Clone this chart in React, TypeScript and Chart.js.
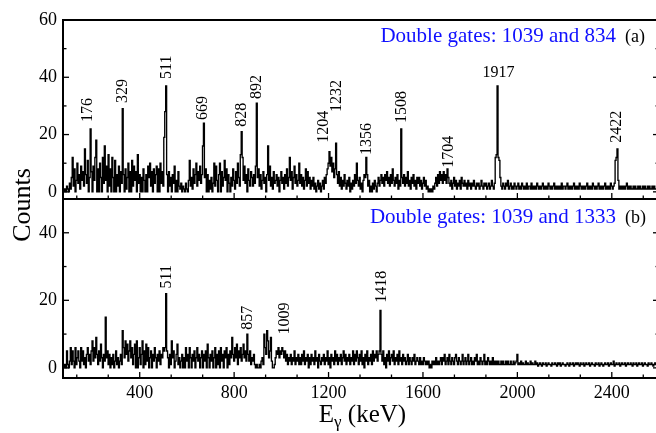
import React, { useEffect, useRef } from 'react';
import { Chart, registerables } from 'chart.js';

Chart.register(...registerables);

const SERIF = '"Liberation Serif", "Times New Roman", serif';

const E_MIN = 75;
const E_MAX = 2600;
const BIN_START = 80;
const BIN_WIDTH = 4;

// Panel (a): double gates 1039 and 834 — counts per 4 keV bin (100 bins per 400 keV block)
const A_0080 = [
  0,1,0,2,1,0,3,1,5,12,2,8,0,4,10,3,6,1,9,4,7,2,15,6,3,
  11,0,5,22,7,0,9,4,12,18,0,8,0,10,5,0,12,3,16,4,9,0,13,2,8,
  0,12,5,0,11,0,6,2,9,0,7,3,29,6,0,8,1,5,10,0,7,0,11,2,9,
  4,7,0,13,3,6,0,5,0,8,4,0,6,0,9,5,10,2,7,0,8,3,6,9,0,
];
const A_0480 = [
  8,0,10,3,7,2,19,28,37,6,0,7,2,5,0,6,3,9,0,4,0,7,2,1,3,
  0,2,1,0,3,1,0,4,11,2,5,1,8,3,6,10,2,7,4,9,3,6,16,24,5,
  8,0,6,0,4,1,5,0,3,10,2,9,4,0,6,10,0,7,2,5,11,4,8,0,6,
  3,0,5,2,8,4,1,7,3,10,5,2,13,21,12,4,9,3,6,0,8,4,2,7,5,
];
const A_0880 = [
  2,6,3,9,31,5,8,2,6,1,4,7,3,5,0,6,16,4,9,2,5,1,7,3,4,
  6,2,5,0,4,7,3,5,1,6,3,8,2,5,12,4,7,1,5,9,3,6,2,4,10,
  3,6,2,5,1,4,8,2,7,3,5,1,4,2,5,1,3,0,2,4,1,3,0,2,4,
  1,5,3,6,8,10,14,9,12,7,10,5,8,17,6,3,7,2,5,1,4,2,6,3,1,
];
const A_1280 = [
  4,2,5,0,3,1,4,2,6,3,10,4,2,5,1,3,0,4,6,5,12,6,2,4,0,
  2,0,3,1,4,2,0,3,5,2,4,6,3,5,2,6,4,7,3,5,2,6,3,8,4,
  2,5,3,6,1,4,2,22,5,3,6,2,5,3,7,2,4,1,5,3,6,2,4,1,5,
  3,5,2,4,1,3,5,2,4,1,2,0,1,0,1,0,2,1,3,5,2,6,3,7,4,
];
const A_1680 = [
  6,3,7,4,6,3,8,5,3,2,4,1,3,5,2,4,1,3,2,4,1,5,3,2,4,
  2,3,1,4,2,3,1,3,2,4,2,1,3,2,3,1,2,4,2,1,3,2,3,1,2,
  3,1,2,4,2,1,3,12,13,37,12,11,5,2,1,3,2,1,3,2,4,1,2,3,1,
  2,1,3,2,1,2,3,1,2,1,3,2,1,2,1,3,1,2,2,1,3,1,2,1,2,
];
const A_2080 = [
  1,3,2,1,2,1,2,3,1,2,1,2,1,3,2,1,2,1,2,3,1,2,1,2,1,
  2,1,3,1,2,2,1,2,3,1,2,1,2,1,2,3,1,2,1,2,1,3,2,1,2,
  1,2,1,2,3,1,2,1,2,1,3,2,1,2,1,2,3,1,2,1,2,1,2,3,1,
  2,1,2,1,3,2,1,2,3,11,12,15,4,1,2,1,2,1,2,1,2,3,1,2,1,
];
const A_2480 = [
  2,1,1,2,1,2,1,1,2,1,2,1,1,2,1,2,1,1,2,1,2,1,1,2,1,
  2,1,1,2,1,2,
];

// Panel (b): double gates 1039 and 1333
const B_0080 = [
  0,1,0,5,1,0,2,6,1,5,2,0,6,1,3,5,2,0,6,2,5,1,3,0,4,
  6,2,4,1,5,8,2,6,3,9,4,1,5,2,7,3,0,4,2,15,3,5,1,4,0,
  3,1,4,0,2,5,1,3,0,2,4,1,11,6,3,8,4,7,2,5,8,3,6,1,4,
  7,0,8,0,3,6,1,4,8,0,5,1,7,2,6,0,3,5,0,4,2,6,3,0,4,
];
const B_0480 = [
  2,5,1,4,3,6,5,6,22,5,3,0,4,1,8,3,5,0,2,4,7,1,3,0,2,
  4,0,3,0,6,2,4,0,6,3,0,4,2,5,0,3,6,2,4,0,3,5,0,4,2,
  5,0,7,3,0,4,2,5,0,3,6,0,4,1,5,0,6,2,4,0,5,3,6,0,4,
  1,5,3,9,4,2,6,3,7,1,5,3,6,2,4,7,3,5,2,10,4,2,5,1,3,
];
const B_0880 = [
  2,4,1,0,1,0,0,1,0,2,3,1,10,6,4,11,8,3,5,9,2,0,0,1,3,
  5,4,6,3,5,4,6,5,3,5,2,4,1,3,2,4,1,3,2,5,1,3,2,4,1,
  3,1,4,2,5,1,3,2,4,0,3,1,4,2,3,1,5,2,3,0,4,2,1,3,2,
  4,1,3,2,5,1,3,0,4,2,3,1,5,2,4,1,3,2,4,1,3,5,2,4,1,
];
const B_1280 = [
  3,2,4,1,3,2,5,1,4,2,5,3,1,4,2,5,1,3,0,4,2,5,1,3,2,
  4,1,5,2,4,3,5,2,4,5,17,4,2,5,1,3,0,4,2,5,1,3,4,2,5,
  1,3,2,4,1,5,2,3,1,4,2,3,1,2,4,1,3,2,1,3,2,4,1,2,3,
  2,1,3,1,2,1,3,2,1,2,1,2,0,1,0,2,1,2,1,3,1,2,1,2,3,
];
const B_1680 = [
  1,3,2,4,1,2,3,1,4,2,1,3,2,1,3,4,2,1,3,2,1,2,4,1,2,
  3,1,2,4,1,2,3,1,2,1,3,2,4,1,2,1,3,2,1,2,4,1,2,1,3,
  2,1,2,1,3,1,2,1,2,1,2,1,1,2,1,2,1,1,2,1,2,1,1,2,1,
  1,2,1,1.5,2,4,1,1.5,1,2,1,1.5,1,1,2,1,1.5,1,1,2,1,1.5,1,1,2,
];
const B_2080 = [
  1,1.5,0.5,1,1.5,1,0.5,1.5,1,1,1.5,0.5,1,1.5,1,1,0.5,1.5,1,1,1.5,1,0.5,1.5,1,
  1.5,0.5,1,1.5,1,1,0.5,1,1.5,1,0.5,1.5,1,1,1.5,0.5,1,1.5,1,1.5,1,0.5,1.5,1,1,
  1.5,0.5,1,1.5,1,1,1.5,0.5,1,1.5,1,1,0.5,1.5,1,1,1.5,0.5,1,1.5,1,0.5,1,1.5,1,
  1,1.5,0.5,1,1.5,1,1,2,0.5,1,1.5,1,1,1.5,0.5,1,1.5,1,1,1.5,0.5,1,1.5,1,1,
];
const B_2480 = [
  1.5,1,0.5,1.5,1,1,1.5,0.5,1,1.5,1,1,1.5,0.5,1,1.5,1,1,0.5,1.5,1,1,1.5,1,0.5,
  1,1.5,1,0.5,1.5,1,
];

const SPEC_A = [...A_0080, ...A_0480, ...A_0880, ...A_1280, ...A_1680, ...A_2080, ...A_2480];
const SPEC_B = [...B_0080, ...B_0480, ...B_0880, ...B_1280, ...B_1680, ...B_2080, ...B_2480];

// Axes
const X_TICKS = [400, 800, 1200, 1600, 2000, 2400];
const X_MINOR_PER_MAJOR = 2;
const Y_RANGE_A = [-2.5, 60];
const Y_RANGE_B = [-3, 50];
const Y_TICKS_A = [0, 20, 40, 60];
const Y_MINOR_A = [10, 30, 50];
const Y_TICKS_B = [0, 20, 40];
const Y_MINOR_B = [10, 30];

// Peak annotations (text, energy position, label start in counts)
const PEAK_A_TEXT = ['176', '329', '511', '669', '828', '892', '1204', '1232', '1356', '1508', '1704', '2422'];
const PEAK_A_E = [182, 329, 513, 669, 832, 895, 1181, 1234, 1362, 1510, 1708, 2422];
const PEAK_A_Y = [24.4, 31, 39.4, 25.1, 22.7, 32.4, 17.1, 27.9, 12.9, 24, 8.4, 17.1];
const FLAT_LABEL_A = { text: '1917', e: 1920, y: 40.1 };
const PEAK_B_TEXT = ['511', '857', '1009', '1418'];
const PEAK_B_E = [513, 857, 1014, 1425];
const PEAK_B_Y = [23.5, 11.3, 9.9, 19.3];

const GATE_A = 'Double gates: 1039 and 834';
const GATE_B = 'Double gates: 1039 and 1333';
const TAG_A = '(a)';
const TAG_B = '(b)';
const GATE_RIGHT_E = 2418;
const TAG_LEFT_E = 2456;
const GATE_Y_A = 52.3;
const GATE_Y_B = 42.8;

const toPoints = (arr: number[]) => arr.map((v, i) => ({ x: BIN_START + i * BIN_WIDTH, y: v }));

const xMinor = (): number[] => {
  const out: number[] = [];
  const step = X_TICKS[1] - X_TICKS[0];
  for (let m = X_TICKS[0] - step; m <= E_MAX; m += step) {
    for (let k = 1; k <= X_MINOR_PER_MAJOR; k++) {
      const v = m + (k * step) / (X_MINOR_PER_MAJOR + 1);
      if (v > E_MIN && v < E_MAX) out.push(v);
    }
  }
  return out;
};

const decor = {
  id: 'decor',
  afterDraw(chart: any) {
    const ctx: CanvasRenderingContext2D = chart.ctx;
    const xs = chart.scales.x;
    const yt = chart.scales.yTop;
    const yb = chart.scales.yBot;
    const L = xs.left;
    const R = xs.right;
    const line = (x1: number, y1: number, x2: number, y2: number) => {
      ctx.beginPath();
      ctx.moveTo(x1, y1);
      ctx.lineTo(x2, y2);
      ctx.stroke();
    };
    ctx.save();
    ctx.strokeStyle = '#000';
    ctx.lineWidth = 1.3;
    const minors = xMinor();
    const panels: [any, number[], number[]][] = [
      [yt, Y_TICKS_A, Y_MINOR_A],
      [yb, Y_TICKS_B, Y_MINOR_B],
    ];
    for (const [ys, major, minor] of panels) {
      for (const v of major) {
        const p = ys.getPixelForValue(v);
        line(L, p, L + 6, p);
        line(R, p, R - 6, p);
      }
      for (const v of minor) {
        const p = ys.getPixelForValue(v);
        line(L, p, L + 3.5, p);
        line(R, p, R - 3.5, p);
      }
      for (const v of X_TICKS) {
        const p = xs.getPixelForValue(v);
        line(p, ys.bottom, p, ys.bottom - 6);
      }
      for (const v of minors) {
        const p = xs.getPixelForValue(v);
        line(p, ys.bottom, p, ys.bottom - 3.5);
      }
    }
    ctx.lineWidth = 2;
    ctx.strokeRect(L, yt.top, R - L, yb.bottom - yt.top);
    line(L, yt.bottom, R, yt.bottom);

    // peak labels
    ctx.fillStyle = '#000';
    ctx.font = `16px ${SERIF}`;
    const rot = (t: string, x: number, y: number) => {
      ctx.save();
      ctx.translate(x, y);
      ctx.rotate(-Math.PI / 2);
      ctx.textAlign = 'left';
      ctx.textBaseline = 'middle';
      ctx.fillText(t, 0, 0);
      ctx.restore();
    };
    PEAK_A_TEXT.forEach((t, i) => rot(t, xs.getPixelForValue(PEAK_A_E[i]), yt.getPixelForValue(PEAK_A_Y[i])));
    PEAK_B_TEXT.forEach((t, i) => rot(t, xs.getPixelForValue(PEAK_B_E[i]), yb.getPixelForValue(PEAK_B_Y[i])));
    ctx.textAlign = 'center';
    ctx.textBaseline = 'alphabetic';
    ctx.fillText(FLAT_LABEL_A.text, xs.getPixelForValue(FLAT_LABEL_A.e), yt.getPixelForValue(FLAT_LABEL_A.y));

    // gate captions
    ctx.font = `21px ${SERIF}`;
    ctx.fillStyle = '#1010ff';
    ctx.textAlign = 'right';
    ctx.fillText(GATE_A, xs.getPixelForValue(GATE_RIGHT_E), yt.getPixelForValue(GATE_Y_A));
    ctx.fillText(GATE_B, xs.getPixelForValue(GATE_RIGHT_E), yb.getPixelForValue(GATE_Y_B));
    ctx.font = `18px ${SERIF}`;
    ctx.fillStyle = '#000';
    ctx.textAlign = 'left';
    ctx.fillText(TAG_A, xs.getPixelForValue(TAG_LEFT_E), yt.getPixelForValue(GATE_Y_A));
    ctx.fillText(TAG_B, xs.getPixelForValue(TAG_LEFT_E), yb.getPixelForValue(GATE_Y_B));

    // y title
    ctx.save();
    ctx.font = `26px ${SERIF}`;
    ctx.translate(L - 40, (yt.top + yb.bottom) / 2 + 6);
    ctx.rotate(-Math.PI / 2);
    ctx.textAlign = 'center';
    ctx.textBaseline = 'middle';
    ctx.fillText('Counts', 0, 0);
    ctx.restore();

    // x title: E with subscript gamma
    const big = `25px ${SERIF}`;
    const small = `17px ${SERIF}`;
    ctx.textAlign = 'left';
    ctx.textBaseline = 'alphabetic';
    ctx.font = big;
    const wE = ctx.measureText('E').width;
    const wRest = ctx.measureText(' (keV)').width;
    ctx.font = small;
    const wG = ctx.measureText('γ').width;
    const total = wE + wG + wRest;
    const base = 421.5;
    const x0 = (L + R) / 2 + 1.5 - total / 2;
    ctx.font = big;
    ctx.fillText('E', x0, base);
    ctx.font = small;
    ctx.fillText('γ', x0 + wE, base + 5);
    ctx.font = big;
    ctx.fillText(' (keV)', x0 + wE + wG, base);
    ctx.restore();
  },
};

export default function App() {
  const ref = useRef<HTMLCanvasElement>(null);
  useEffect(() => {
    const canvas = ref.current;
    if (!canvas) return;
    const tickFont = { family: SERIF, size: 18 };
    const spectrumStyle = {
      stepped: 'middle',
      borderColor: '#000',
      borderWidth: 1.35,
      pointRadius: 0,
      fill: false,
    };
    const chart = new Chart(canvas, {
      type: 'line',
      data: {
        datasets: [
          { ...spectrumStyle, data: toPoints(SPEC_A), yAxisID: 'yTop' },
          { ...spectrumStyle, data: toPoints(SPEC_B), yAxisID: 'yBot' },
        ],
      },
      options: {
        responsive: false,
        animation: false,
        devicePixelRatio: 1,
        layout: { padding: { top: 20, right: 3, left: 0, bottom: 0 } },
        plugins: { legend: { display: false }, tooltip: { enabled: false } },
        scales: {
          x: {
            type: 'linear',
            position: 'bottom',
            min: E_MIN,
            max: E_MAX,
            grid: { display: false, drawTicks: false },
            border: { display: false },
            ticks: { font: tickFont, color: '#000', padding: 4, maxRotation: 0, autoSkip: false, callback: (v: any) => String(v) },
            afterBuildTicks: (s: any) => { s.ticks = X_TICKS.map((v) => ({ value: v })); },
            afterFit: (s: any) => { s.height = 55; },
          },
          yBot: {
            type: 'linear',
            position: 'left',
            stack: 'panels',
            stackWeight: 1,
            weight: 1,
            min: Y_RANGE_B[0],
            max: Y_RANGE_B[1],
            grid: { display: false, drawTicks: false },
            border: { display: false },
            ticks: { font: tickFont, color: '#000', padding: 6, callback: (v: any) => String(v) },
            afterBuildTicks: (s: any) => { s.ticks = Y_TICKS_B.map((v) => ({ value: v })); },
            afterFit: (s: any) => { s.width = 63; },
          },
          yTop: {
            type: 'linear',
            position: 'left',
            stack: 'panels',
            stackWeight: 1,
            weight: 2,
            min: Y_RANGE_A[0],
            max: Y_RANGE_A[1],
            grid: { display: false, drawTicks: false },
            border: { display: false },
            ticks: { font: tickFont, color: '#000', padding: 6, callback: (v: any) => String(v) },
            afterBuildTicks: (s: any) => { s.ticks = Y_TICKS_A.map((v) => ({ value: v })); },
            afterFit: (s: any) => { s.width = 63; },
          },
        },
      } as any,
      plugins: [decor],
    });
    return () => chart.destroy();
  }, []);
  return (
    <div style={{ position: 'absolute', left: 0, top: 0, width: 656, height: 433, overflow: 'hidden', background: '#fff' }}>
      <canvas ref={ref} width={662} height={433} style={{ display: 'block', width: 662, height: 433 }} />
    </div>
  );
}
